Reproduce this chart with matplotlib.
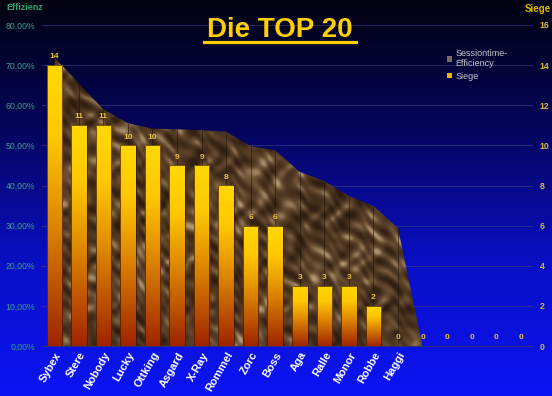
import numpy as np
import matplotlib
matplotlib.use("Agg")
import matplotlib.pyplot as plt
from matplotlib.colors import LinearSegmentedColormap
from matplotlib.patches import Patch, Polygon
from matplotlib.lines import Line2D
from matplotlib.ticker import FuncFormatter, MultipleLocator

plt.rcParams['font.family'] = ['Liberation Sans', 'DejaVu Sans']

# data
players = ['Sybex', 'Stere', 'Nobody', 'Lucky', 'Ottking', 'Asgard', 'X-Ray', 'Rommel',
           'Zorc', 'Boss', 'Aga', 'Ralle', 'Monor', 'Robbe', 'Haggi', '', '', '', '', '']
siege = [14, 11, 11, 10, 10, 9, 9, 8, 6, 6, 3, 3, 3, 2, 0, 0, 0, 0, 0, 0]
efficiency = [0.72, 0.655, 0.59, 0.555, 0.542, 0.54, 0.538, 0.534, 0.498, 0.488,
              0.434, 0.411, 0.374, 0.349, 0.294, 0, 0, 0, 0, 0]

W, H = 552, 396
fig = plt.figure(figsize=(W / 100, H / 100), dpi=100)

# background gradient (dark navy -> bright blue)
bg = fig.add_axes([0, 0, 1, 1], zorder=-10)
bg_cmap = LinearSegmentedColormap.from_list(
    'bg', [(0, '#020210'), (0.33, '#05055E'), (0.66, '#0A0FC4'), (1, '#0B14F4')])
bg.imshow(np.linspace(0, 1, 256).reshape(-1, 1), cmap=bg_cmap, aspect='auto',
          extent=[0, 1, 0, 1])
bg.set_axis_off()

ax = fig.add_axes([42 / W, 1 - 346 / H, 491 / W, 321 / H])
ax.patch.set_alpha(0)
x = np.arange(len(players))

# area: Sessiontime-Efficiency with a marble-ish texture
verts = [(x[0], 0)] + list(zip(x, efficiency)) + [(x[-1], 0)]
area = Polygon(verts, closed=True, facecolor='none', edgecolor='none',
               transform=ax.transData)
ax.add_patch(area)
yy, xx = np.mgrid[0:330, 0:500].astype(float)
tex = (np.sin(xx * 0.21 + 2.2 * np.sin(yy * 0.13) + 1.6 * np.sin(xx * 0.07 + yy * 0.09))
       + 0.8 * np.sin(yy * 0.27 + 2.4 * np.cos(xx * 0.11 - yy * 0.05))
       + 0.6 * np.sin((xx - yy) * 0.41 + 1.5 * np.sin(xx * 0.19))
       + 0.5 * np.sin(xx * 0.03 + yy * 0.045))
tex = (tex - tex.min()) / (tex.max() - tex.min())
tex = tex ** 1.6
marble = LinearSegmentedColormap.from_list(
    'marble', ['#2E1C10', '#46301C', '#5A3F28', '#705438', '#957A58', '#B49C7A'])
im = ax.imshow(tex, cmap=marble, aspect='auto', extent=[-0.5, 19.5, 0, 0.8],
               zorder=1, interpolation='bilinear')
im.set_clip_path(area)
ax.vlines([xi for xi, e in zip(x, efficiency) if e > 0],
          0, [e for e in efficiency if e > 0], colors='#1E120A', lw=0.5, alpha=0.8, zorder=2)

ax.set_xlim(-0.5, len(players) - 0.5)
ax.set_ylim(0, 0.8)
ax.yaxis.set_major_locator(MultipleLocator(0.1))
ax.yaxis.set_major_formatter(FuncFormatter(lambda v, p: f"{v * 100:.2f}%".replace('.', ',')))
ax.grid(axis='y', color='#3A3A80', lw=0.6, alpha=0.8, zorder=0)
ax.set_axisbelow(True)
for s in ['top', 'left', 'right']:
    ax.spines[s].set_visible(False)
ax.spines['bottom'].set_color('#303070')
ax.tick_params(axis='y', length=0, pad=5, labelsize=6.3, labelcolor='#3A9E84')
ax.set_xticks(x, players, rotation=60, ha='right', rotation_mode='anchor')
ax.tick_params(axis='x', length=0, pad=3, labelsize=8, labelcolor='white')
for lab in ax.get_xticklabels():
    lab.set_fontweight('bold')

# bars: Siege on right axis
ax2 = ax.twinx()
ax2.patch.set_alpha(0)
bars = ax2.bar(x, siege, width=0.63, facecolor='none', edgecolor='#3A1800', lw=0.5, zorder=3)
bar_cmap = LinearSegmentedColormap.from_list(
    'bar', [(0, '#A02400'), (0.45, '#E08A00'), (0.75, '#FFC800'), (1, '#FFD800')])
grad = np.linspace(1, 0, 128).reshape(-1, 1)
for b, v in zip(bars, siege):
    if v > 0:
        bi = ax2.imshow(grad, cmap=bar_cmap, aspect='auto', zorder=2,
                        extent=[b.get_x(), b.get_x() + b.get_width(), 0, v])
        bi.set_clip_path(b)
ax2.bar_label(bars, padding=3.5, fontsize=6, color='#E8C43C', fontweight='bold')
ax2.set_xlim(-0.5, len(players) - 0.5)
ax2.set_ylim(0, 16)
ax2.yaxis.set_major_locator(MultipleLocator(2))
for s in ax2.spines.values():
    s.set_visible(False)
ax2.tick_params(axis='y', length=0, pad=5, labelsize=6.3, labelcolor='#D8B840')
for lab in ax2.get_yticklabels():
    lab.set_fontweight('bold')

handles = [Patch(facecolor='#7A6A60'), Patch(facecolor='#F0B800')]
ax2.legend(handles, ['Sessiontime-\nEfficiency', 'Siege'], loc='upper left',
           bbox_to_anchor=(447 / W, 1 - 49 / H), bbox_transform=fig.transFigure,
           frameon=False, fontsize=6.5, labelcolor='#C4C4CC', handlelength=0.6,
           handleheight=0.6, handletextpad=0.3, labelspacing=0.35, borderpad=0,
           borderaxespad=0)

# titles and axis captions
fig.text(280 / W, 1 - 37 / H, 'Die TOP 20', ha='center', va='baseline', fontsize=20,
         fontweight='bold', color='#FFD000')
fig.add_artist(Line2D([204 / W, 356 / W], [1 - 41.5 / H, 1 - 41.5 / H], color='#FFD000',
                      lw=2.3, transform=fig.transFigure))
fig.text(6 / W, 1 - 8 / H, 'Effizienz', ha='left', va='center', fontsize=6.5,
         fontweight='bold', color='#2FA86C')
fig.text(551 / W, 1 - 9 / H, 'Siege', ha='right', va='center', fontsize=7,
         fontweight='bold', color='#E0B800')

fig.savefig('out.png', dpi=100)
